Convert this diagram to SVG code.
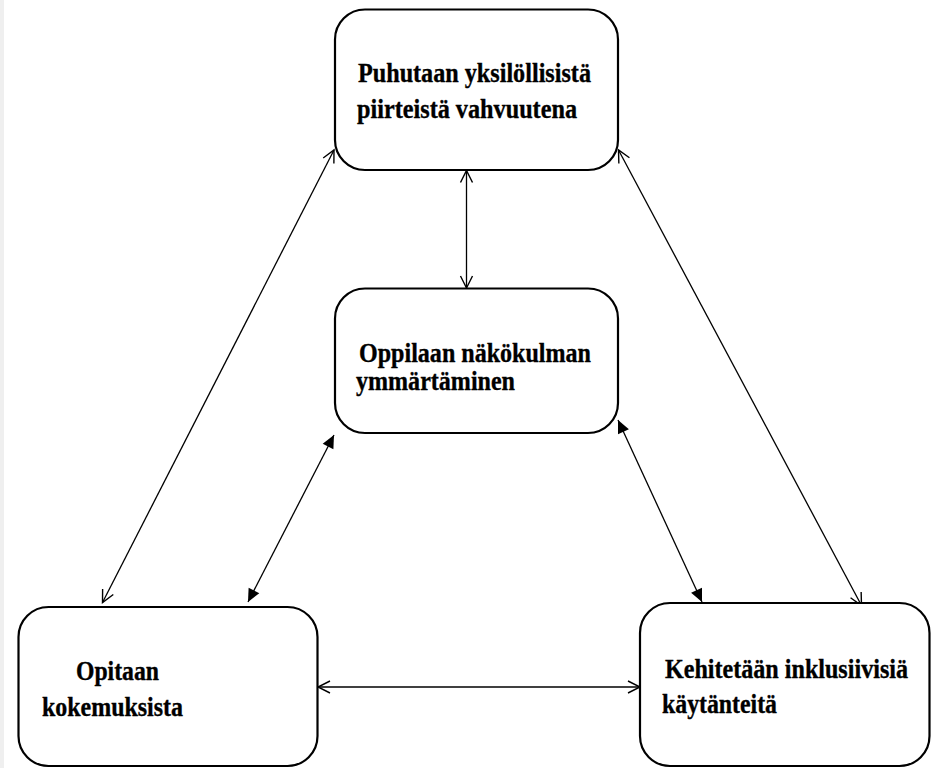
<svg xmlns="http://www.w3.org/2000/svg" width="932" height="768" viewBox="0 0 932 768">
<style>
.box{fill:#ffffff;stroke:#000000;stroke-width:2.2}
.lbl{font-family:"Liberation Serif","Times New Roman",serif;font-weight:bold;font-size:27px;fill:#000000;stroke:#000000;stroke-width:0.35}
.con{stroke:#000000;stroke-width:1.3;fill:none}
.open{marker-start:url(#oa);marker-end:url(#oa)}
.fill{marker-start:url(#fa);marker-end:url(#fa)}
</style>
<defs>
<marker id="oa" viewBox="-14 -8 16 16" refX="0" refY="0" markerWidth="16" markerHeight="16" orient="auto-start-reverse" markerUnits="userSpaceOnUse">
<path d="M-12,-6 L0,0 L-12,6" fill="none" stroke="#000000" stroke-width="1.4"/>
</marker>
<marker id="fa" viewBox="-14 -8 16 16" refX="0" refY="0" markerWidth="16" markerHeight="16" orient="auto-start-reverse" markerUnits="userSpaceOnUse">
<path d="M-13,-6 L0,0 L-13,6 Z" fill="#000000"/>
</marker>
</defs>
<rect x="0" y="0" width="932" height="768" fill="#ffffff"/>
<rect x="0" y="0" width="4" height="768" fill="#efefef"/>
<g id="connectors">
<line class="con open" x1="334" y1="150" x2="102.5" y2="602.5"/>
<line class="con open" x1="618.5" y1="150" x2="861.5" y2="605.5"/>
<line class="con open" x1="466.5" y1="170.5" x2="466.5" y2="288"/>
<line class="con fill" x1="334" y1="435" x2="248" y2="602"/>
<line class="con fill" x1="618" y1="420" x2="702" y2="602"/>
<line class="con open" x1="318" y1="687" x2="640" y2="687"/>
</g>
<g id="node-top">
<rect class="box" x="335" y="9.5" width="283" height="160.5" rx="30" ry="30"/>
<text class="lbl" x="358" y="82" textLength="233" lengthAdjust="spacingAndGlyphs">Puhutaan yksilöllisistä</text>
<text class="lbl" x="357" y="118" textLength="220" lengthAdjust="spacingAndGlyphs">piirteistä vahvuutena</text>
</g>
<g id="node-middle">
<rect class="box" x="335" y="288.5" width="283" height="144.5" rx="30" ry="30"/>
<text class="lbl" x="359" y="362" textLength="232" lengthAdjust="spacingAndGlyphs">Oppilaan näkökulman</text>
<text class="lbl" x="356" y="390" textLength="159" lengthAdjust="spacingAndGlyphs">ymmärtäminen</text>
</g>
<g id="node-left">
<rect class="box" x="18.5" y="607" width="299" height="159" rx="30" ry="30"/>
<text class="lbl" x="76" y="680" textLength="83" lengthAdjust="spacingAndGlyphs">Opitaan</text>
<text class="lbl" x="42" y="716" textLength="141" lengthAdjust="spacingAndGlyphs">kokemuksista</text>
</g>
<g id="node-right">
<rect class="box" x="640" y="603" width="289.5" height="163" rx="30" ry="30"/>
<text class="lbl" x="665" y="678" textLength="243" lengthAdjust="spacingAndGlyphs">Kehitetään inklusiivisiä</text>
<text class="lbl" x="662" y="713" textLength="115" lengthAdjust="spacingAndGlyphs">käytänteitä</text>
</g>
</svg>
